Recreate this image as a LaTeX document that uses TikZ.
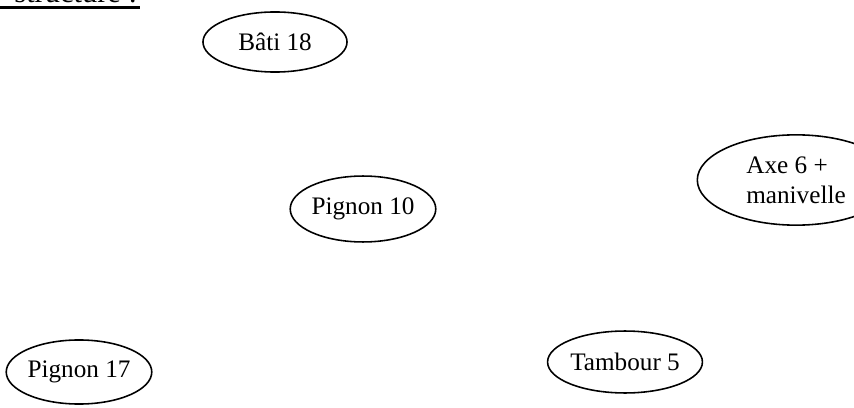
\documentclass[tikz,border=0pt]{standalone}
\usepackage{fontspec}
\setmainfont{Liberation Serif}
\usetikzlibrary{shapes.geometric}
\begin{document}
\begin{tikzpicture}[x=0.4762pt,y=-0.4762pt,
  part/.style={draw,line width=0.75pt,ellipse,inner sep=0pt,font=\fontsize{12}{14.3}\selectfont,align=center}]
\useasboundingbox (0,0) rectangle (854,408);
\node[anchor=base west,inner sep=0pt,font=\fontsize{14.5}{16}\selectfont] (title) at (14,3) {structure :};
\draw[line width=1.1pt] (0,7.5) -- (140,7.5);
\node[part,minimum width=68.6pt,minimum height=28.6pt] (bati) at (275,42) {Bâti 18};
\node[part,minimum width=67.6pt,minimum height=31.4pt] (p10) at (363,209) {Pignon 10};
\node[part,align=left,minimum width=94pt,minimum height=43pt] (axe) at (796,180) {Axe 6 +\\manivelle};
\node[part,minimum width=68.6pt,minimum height=30.5pt] (p17) at (79,372) {Pignon 17};
\node[part,minimum width=69.5pt,minimum height=29.5pt] (tam) at (625,362) {Tambour 5};
\end{tikzpicture}
\end{document}
